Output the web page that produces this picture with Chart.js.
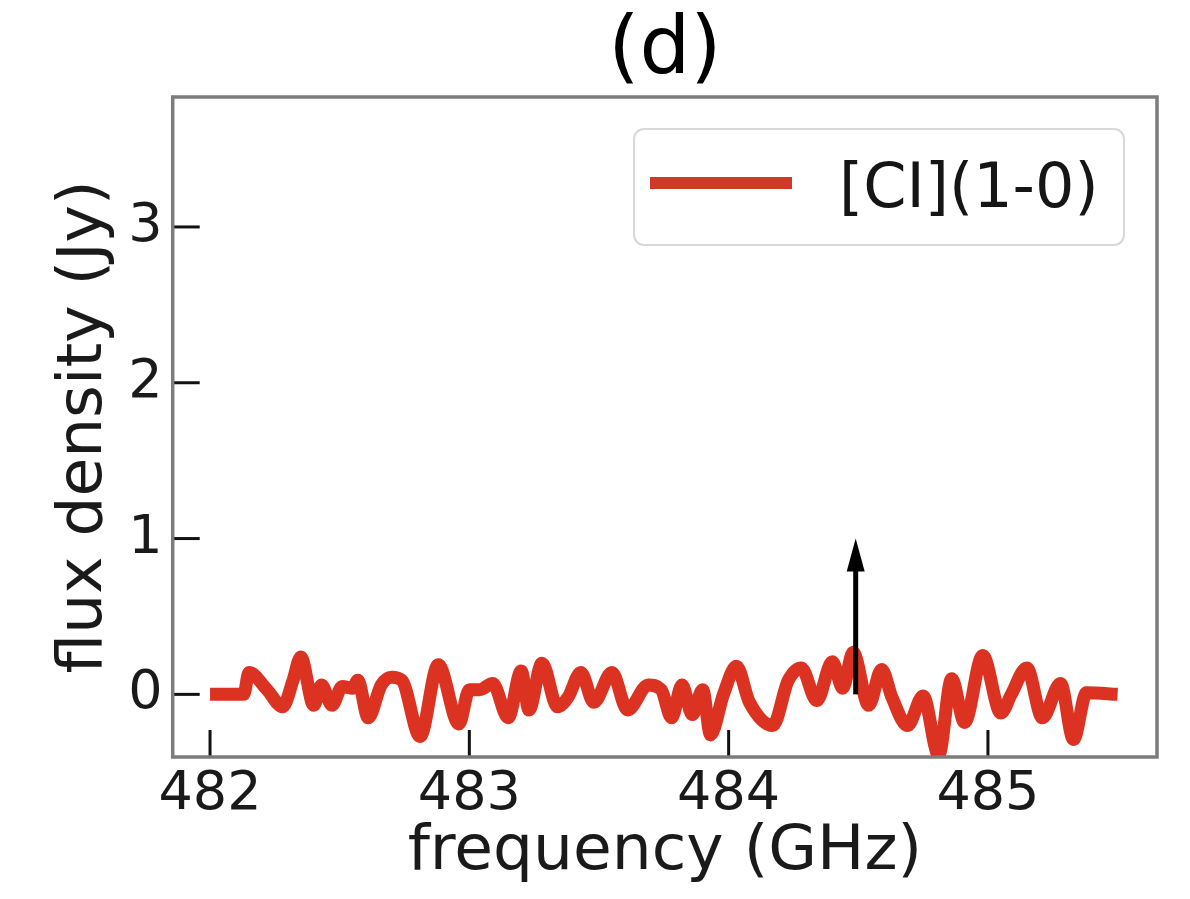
<!DOCTYPE html>
<html>
<head>
<meta charset="utf-8">
<title>[CI](1-0) spectrum</title>
<script src="https://cdn.jsdelivr.net/npm/chart.js@4.4.1/dist/chart.umd.min.js"></script>
<style>
  html, body { margin: 0; padding: 0; background: #ffffff; }
  canvas { display: block; }
</style>
</head>
<body>
<canvas id="spectrum" width="1190" height="899"></canvas>
<script>
// Spectrum channels: frequency (GHz) and flux density (Jy)
const freqGHz = [
  482.00, 482.13, 482.15, 482.22, 482.28, 482.32, 482.35, 482.40, 482.43, 482.47,
  482.51, 482.55, 482.57, 482.61, 482.66, 482.70, 482.74, 482.81, 482.88, 482.96,
  483.00, 483.04, 483.09, 483.15, 483.20, 483.23, 483.28, 483.34, 483.38, 483.43,
  483.48, 483.55, 483.61, 483.69, 483.74, 483.78, 483.82, 483.86, 483.90, 483.93,
  483.98, 484.03, 484.08, 484.17, 484.23, 484.28, 484.34, 484.40, 484.44, 484.48,
  484.54, 484.59, 484.63, 484.69, 484.75, 484.81, 484.86, 484.91, 484.98, 485.05,
  485.09, 485.15, 485.21, 485.28, 485.33, 485.38, 485.50
];
const fluxJy = [
   0.00,  0.00,  0.14,  0.03, -0.08,  0.09,  0.24, -0.07,  0.06, -0.07,
   0.05,  0.04,  0.09, -0.15,  0.06,  0.11,  0.09, -0.27,  0.19, -0.19,
   0.03,  0.03,  0.07, -0.15,  0.15, -0.10,  0.20, -0.08, -0.02,  0.14,
  -0.05,  0.14, -0.10,  0.06,  0.03, -0.15,  0.06, -0.13,  0.03, -0.26,
   0.00,  0.18, -0.05, -0.20,  0.09,  0.17, -0.04,  0.21,  0.04,  0.27,
  -0.07,  0.16, -0.02, -0.20, -0.01, -0.39,  0.10, -0.18,  0.25, -0.12,
   0.00,  0.17, -0.15,  0.07, -0.29,  0.01,  0.00
];

// Axis ticks and limits
const xTicks = [482, 483, 484, 485];
const yTicks = [0, 1, 2, 3];
const xLimits = [481.856, 485.652];
const yLimits = [-0.402, 3.834];

// Expected line position marker (arrow from base to tip)
const markerFreq = 484.49;
const markerFlux = [0, 1.0];

// Text
const seriesLabel = '[CI](1-0)';
const panelTitle = '(d)';
const xTitle = 'frequency (GHz)';
const yTitle = 'flux density (Jy)';

const LINE_RED = '#db3222';
const FONT = "'DejaVu Sans', 'Liberation Sans', sans-serif";

const decor = {
  id: 'decor',
  beforeDraw(chart) {
    const { ctx, width, height } = chart;
    ctx.save();
    ctx.fillStyle = '#ffffff';
    ctx.fillRect(0, 0, width, height);
    ctx.restore();
  },
  afterDatasetsDraw(chart) {
    const { ctx, chartArea: a, scales: { x, y } } = chart;
    ctx.save();

    // marker arrow
    const ax = x.getPixelForValue(markerFreq);
    const yBase = y.getPixelForValue(markerFlux[0]);
    const yTip = y.getPixelForValue(markerFlux[1]);
    const headLen = 33, headW = 18;
    ctx.strokeStyle = '#000000';
    ctx.lineWidth = 5;
    ctx.lineCap = 'butt';
    ctx.beginPath();
    ctx.moveTo(ax, yBase);
    ctx.lineTo(ax, yTip + headLen - 2);
    ctx.stroke();
    ctx.fillStyle = '#000000';
    ctx.beginPath();
    ctx.moveTo(ax, yTip);
    ctx.lineTo(ax - headW / 2, yTip + headLen);
    ctx.lineTo(ax + headW / 2, yTip + headLen);
    ctx.closePath();
    ctx.fill();

    // inward tick marks
    ctx.strokeStyle = '#111111';
    ctx.lineWidth = 3;
    const tickLen = 27;
    x.ticks.forEach(t => {
      const px = x.getPixelForValue(t.value);
      ctx.beginPath();
      ctx.moveTo(px, a.bottom);
      ctx.lineTo(px, a.bottom - tickLen);
      ctx.stroke();
    });
    y.ticks.forEach(t => {
      const py = y.getPixelForValue(t.value);
      ctx.beginPath();
      ctx.moveTo(a.left, py);
      ctx.lineTo(a.left + tickLen, py);
      ctx.stroke();
    });

    // axes frame
    ctx.strokeStyle = '#7c7c7c';
    ctx.lineWidth = 3.5;
    ctx.strokeRect(a.left, a.top, a.right - a.left, a.bottom - a.top);

    // legend box (upper right)
    const lx = a.right - 523, ly = a.top + 32, lw = 490, lh = 116, r = 10;
    ctx.beginPath();
    ctx.moveTo(lx + r, ly);
    ctx.lineTo(lx + lw - r, ly);
    ctx.arcTo(lx + lw, ly, lx + lw, ly + r, r);
    ctx.lineTo(lx + lw, ly + lh - r);
    ctx.arcTo(lx + lw, ly + lh, lx + lw - r, ly + lh, r);
    ctx.lineTo(lx + r, ly + lh);
    ctx.arcTo(lx, ly + lh, lx, ly + lh - r, r);
    ctx.lineTo(lx, ly + r);
    ctx.arcTo(lx, ly, lx + r, ly, r);
    ctx.closePath();
    ctx.fillStyle = 'rgba(255,255,255,0.85)';
    ctx.fill();
    ctx.strokeStyle = '#d8d8d8';
    ctx.lineWidth = 2;
    ctx.stroke();

    const ds = chart.data.datasets[0];
    ctx.strokeStyle = '#cf3a28';
    ctx.lineWidth = 12;
    ctx.beginPath();
    ctx.moveTo(lx + 16, ly + 54);
    ctx.lineTo(lx + 158, ly + 54);
    ctx.stroke();

    ctx.fillStyle = '#151515';
    ctx.font = `62px ${FONT}`;
    ctx.textAlign = 'left';
    ctx.textBaseline = 'alphabetic';
    ctx.fillText(ds.label, lx + 205, ly + 78);

    // panel title
    ctx.fillStyle = '#000000';
    ctx.font = `80px ${FONT}`;
    ctx.textAlign = 'center';
    ctx.fillText(panelTitle, (a.left + a.right) / 2, 73);

    ctx.restore();
  }
};

const points = freqGHz.map((f, i) => ({ x: f, y: fluxJy[i] }));

new Chart(document.getElementById('spectrum'), {
  type: 'line',
  data: {
    datasets: [{
      label: seriesLabel,
      data: points,
      borderColor: LINE_RED,
      borderWidth: 13,
      pointRadius: 0,
      cubicInterpolationMode: 'monotone',
      borderJoinStyle: 'round',
      borderCapStyle: 'butt',
      clip: 0
    }]
  },
  options: {
    responsive: false,
    animation: false,
    events: [],
    layout: { padding: { left: 0, right: 33, top: 97, bottom: 0 } },
    plugins: {
      legend: { display: false },
      tooltip: { enabled: false },
      title: { display: false }
    },
    scales: {
      x: {
        type: 'linear',
        min: xLimits[0],
        max: xLimits[1],
        afterBuildTicks: s => { s.ticks = xTicks.map(v => ({ value: v })); },
        afterFit: s => { s.height = 142; },
        grid: { display: false, drawTicks: false },
        border: { display: false },
        ticks: {
          autoSkip: false,
          maxRotation: 0,
          padding: 6,
          color: '#1a1a1a',
          font: { family: FONT, size: 54 },
          callback: v => String(v)
        },
        title: {
          display: true,
          text: xTitle,
          color: '#1a1a1a',
          font: { family: FONT, size: 63 },
          padding: { top: 0, bottom: 9 }
        }
      },
      y: {
        type: 'linear',
        min: yLimits[0],
        max: yLimits[1],
        afterBuildTicks: s => { s.ticks = yTicks.map(v => ({ value: v })); },
        afterFit: s => { s.width = 172.7; },
        grid: { display: false, drawTicks: false },
        border: { display: false },
        ticks: {
          autoSkip: false,
          padding: 10,
          color: '#1a1a1a',
          font: { family: FONT, size: 54 },
          callback: v => String(v)
        },
        title: {
          display: true,
          text: yTitle,
          color: '#1a1a1a',
          font: { family: FONT, size: 63 },
          padding: { top: 47, bottom: 0 }
        }
      }
    }
  },
  plugins: [decor]
});
</script>
</body>
</html>
